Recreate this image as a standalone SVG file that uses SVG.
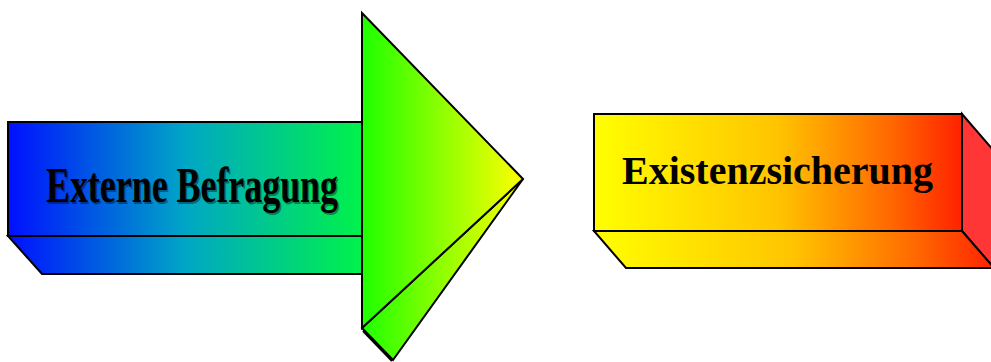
<svg xmlns="http://www.w3.org/2000/svg" width="991" height="362" viewBox="0 0 991 362">
<style>
.s{stroke:#000;stroke-width:2;stroke-linejoin:miter}
.t{font-family:"Liberation Serif","Times New Roman",serif;font-weight:bold;fill:#000}
</style>
<defs>
<linearGradient id="gb" x1="0" y1="0" x2="1" y2="0"><stop offset="0" stop-color="#0010ff"/><stop offset="0.5" stop-color="#00a6c6"/><stop offset="1" stop-color="#00f24a"/></linearGradient>
<linearGradient id="ga" x1="0" y1="0" x2="1" y2="0"><stop offset="0" stop-color="#1eff00"/><stop offset="0.5" stop-color="#90ff00"/><stop offset="1" stop-color="#ffff00"/></linearGradient>
<linearGradient id="gr" x1="0" y1="0" x2="1" y2="0"><stop offset="0" stop-color="#ffff00"/><stop offset="0.5" stop-color="#ffc400"/><stop offset="0.8" stop-color="#ff6a00"/><stop offset="1" stop-color="#ff2200"/></linearGradient>
</defs>
<g id="externe-befragung">
<polygon class="s" fill="url(#gb)" points="8,236 362,236 362,274 42,274"/>
<rect class="s" fill="url(#gb)" x="8" y="122" width="354" height="114"/>
<text class="t" x="46" y="202" font-size="50" textLength="292" lengthAdjust="spacingAndGlyphs" fill-opacity="0.4" transform="translate(1.5,1.5)">Externe Befragung</text>
<text class="t" x="46" y="202" font-size="50" textLength="292" lengthAdjust="spacingAndGlyphs">Externe Befragung</text>
</g>
<g id="arrow">
<polygon class="s" fill="url(#ga)" points="362,328 523,179 393,360"/>
<line class="s" x1="363" y1="331" x2="392" y2="361"/>
<polygon class="s" fill="url(#ga)" points="362,13 523,179 362,328"/>
</g>
<g id="existenzsicherung">
<polygon class="s" fill="#ff3636" points="962,114 994,151 994,268 962,231"/>
<polygon class="s" fill="url(#gr)" points="594,231 962,231 994,268 626,268"/>
<rect class="s" fill="url(#gr)" x="594" y="114" width="368" height="117"/>
<text class="t" x="622" y="184" font-size="40" textLength="311" lengthAdjust="spacingAndGlyphs">Existenzsicherung</text>
</g>
</svg>
